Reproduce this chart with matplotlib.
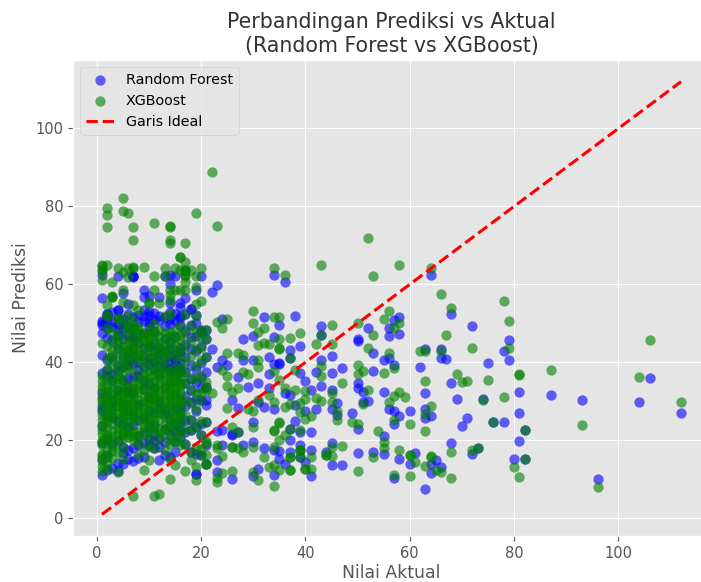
import matplotlib.pyplot as plt

# points that can be told apart, read one by one
rf_actual = [64, 68, 72, 79, 78, 79, 75, 63, 66, 66, 67, 62, 68, 63, 69, 74, 81, 87, 93, 104,
             106, 112, 81, 63, 63, 64, 71, 70, 78, 76, 82, 81, 68, 72, 73, 80, 82, 96, 63, 64,
             65, 66, 64, 34, 36, 32, 38, 35, 43, 43, 28, 30, 34, 39, 37, 33, 37, 43, 45, 47,
             45, 42, 39, 35, 35, 30, 28, 34, 33, 40, 31, 29, 33, 36, 37, 41, 43, 45, 50, 50,
             51, 52, 51, 46, 45, 46, 42, 38, 34, 32, 31, 40, 49, 55, 56, 57, 58, 60, 38, 30,
             37, 41, 39, 57, 50, 55, 37, 30, 28, 32, 34, 35, 37, 39, 41, 44, 45, 50, 53, 55,
             58, 60, 61, 45, 47, 35, 40, 31, 30, 34, 57, 36, 39, 41, 52, 50, 50, 53, 56, 56,
             58, 57, 58, 56, 55, 57, 53, 1, 1, 4, 7, 7, 7, 14, 15, 20, 13, 14, 23, 22, 19, 9,
             5, 9, 10, 12, 17, 14, 16, 16, 6, 9, 18, 18, 2, 2, 4, 4, 10, 16, 17, 19, 24, 1,
             11, 14, 22, 23, 24, 25, 27, 27, 26, 27, 26, 24, 23, 26, 19, 23, 23, 26, 24]
rf_pred = [62.3, 52.5, 49.3, 45.7, 42.8, 40.6, 39.9, 43.4, 43.4, 41.2, 40.9, 38.8, 34.8, 32.2, 30.6, 30.5, 32.4, 31.6, 30.4, 29.8,
           35.9, 27.1, 26.9, 27.9, 25.6, 26.3, 25.6, 23.7, 24.7, 24.7, 22.7, 19.8, 19.2, 16.6, 18.0, 15.3, 15.1, 10.1, 7.6, 14.0,
           14.9, 13.2, 11.7, 62.3, 60.5, 51.5, 51.8, 49.6, 49.4, 47.0, 46.0, 46.7, 46.4, 44.1, 43.1, 41.4, 41.0, 40.7, 41.7, 38.5,
           37.2, 37.5, 37.2, 39.9, 39.6, 40.5, 40.5, 39.5, 37.1, 35.2, 34.6, 33.7, 33.3, 32.2, 31.6, 32.8, 34.0, 32.8, 34.6, 33.5,
           32.3, 30.1, 29.9, 29.6, 28.1, 26.5, 28.1, 29.0, 27.9, 28.5, 29.9, 27.4, 27.1, 32.4, 28.1, 27.5, 26.3, 27.5, 25.0, 24.6,
           23.0, 22.2, 22.2, 24.1, 22.8, 21.0, 20.0, 19.6, 18.7, 18.1, 17.4, 17.3, 17.0, 18.7, 17.6, 17.0, 19.3, 16.8, 17.0, 16.6,
           15.2, 14.0, 16.8, 13.7, 13.7, 15.2, 14.5, 12.6, 10.8, 11.0, 10.4, 14.0, 15.6, 10.8, 48.9, 46.1, 45.4, 42.5, 48.7, 46.7,
           51.5, 50.8, 47.2, 41.2, 40.5, 39.3, 37.8, 56.5, 62.3, 62.1, 62.1, 62.0, 62.2, 62.3, 62.1, 62.1, 62.1, 60.0, 59.9, 58.0, 58.5, 58.5,
           57.8, 56.8, 57.0, 56.8, 56.5, 55.2, 55.1, 54.2, 55.0, 53.4, 53.8, 53.7, 52.5, 52.4, 53.4, 53.3, 51.9, 51.9, 52.5, 52.1, 51.0, 50.6,
           50.8, 51.2, 43.5, 38.7, 40.5, 39.2, 36.3, 28.4, 30.3, 22.2, 21.3, 22.6, 22.4, 10.0, 11.3, 11.9, 14.9, 21.5, 18.9]

rf_dense_actual = [1]*12 + [2]*12 + [3]*12 + [4]*12 + [5]*12 + [6]*12 + [7]*12 + [8]*12 + [9]*12 + [10]*12 \
    + [11]*12 + [12]*12 + [13]*12 + [14]*12 + [15]*12 + [16]*12 + [17]*10 + [18]*10 + [19]*10 + [20]*10 + [21]*10
rf_dense_pred = [
    11.0, 15.2, 19.4, 23.6, 27.5, 28.8, 32.2, 37.3, 42.0, 47.5, 49.6, 50.2,  # 1
    12.3, 16.1, 20.3, 26.2, 31.1, 36.4, 38.1, 40.7, 46.3, 48.9, 50.9, 52.0,
    13.0, 19.1, 25.6, 28.3, 30.0, 35.1, 37.0, 41.4, 45.8, 49.1, 50.4, 52.8,
    12.1, 14.3, 20.0, 24.9, 33.0, 37.7, 39.4, 43.6, 46.9, 48.2, 49.9, 51.4,
    14.0, 16.7, 18.2, 24.2, 29.2, 35.5, 38.9, 41.5, 46.1, 48.5, 50.0, 51.1,
    15.1, 17.4, 23.5, 32.5, 34.0, 35.9, 39.2, 40.6, 43.0, 47.0, 49.3, 52.5,
    14.6, 17.9, 24.0, 26.5, 32.1, 36.2, 39.9, 41.8, 45.4, 46.6, 48.7, 51.7,
    15.4, 18.7, 21.0, 25.1, 29.4, 36.6, 38.0, 40.0, 45.0, 47.3, 50.4, 52.2,
    15.8, 19.2, 22.0, 26.0, 33.2, 35.3, 38.8, 41.3, 43.7, 47.6, 50.7, 51.9,
    18.7, 20.4, 23.3, 27.5, 31.0, 34.4, 39.6, 41.1, 44.2, 49.4, 50.3, 52.9,
    17.9, 19.9, 21.6, 23.8, 27.3, 33.5, 38.4, 40.1, 42.9, 44.7, 48.1, 52.7,
    15.0, 18.4, 20.7, 27.9, 30.1, 37.1, 39.0, 40.9, 42.4, 44.0, 50.8, 52.0,
    16.3, 19.6, 23.0, 26.7, 28.1, 38.7, 39.1, 41.2, 43.1, 46.2, 49.2, 51.6,
    15.6, 21.4, 23.7, 26.1, 37.6, 38.2, 40.3, 41.7, 43.4, 45.1, 49.8, 53.0,
    16.9, 19.5, 22.3, 24.3, 28.4, 38.3, 39.7, 40.8, 42.1, 46.8, 50.6, 52.4,
    20.9, 22.6, 24.8, 26.9, 28.9, 37.5, 38.5, 39.8, 42.6, 43.8, 49.6, 51.3,
    19.0, 22.2, 25.2, 28.7, 31.4, 34.6, 37.6, 41.4, 44.8, 48.1,  # 17
    17.0, 22.6, 25.1, 29.8, 32.8, 35.8, 39.3, 43.5, 46.5, 49.5,
    11.3, 16.4, 23.4, 27.6, 30.6, 35.0, 38.0, 42.8, 46.8, 50.2,
    16.2, 21.3, 24.1, 30.3, 33.3, 36.0, 39.7, 44.2, 47.7, 48.4,
    13.8, 18.8, 24.7, 29.0, 30.3, 33.7, 37.5, 41.4, 46.1, 48.4]

xgb_actual = [64, 66, 68, 78, 79, 67, 72, 79, 66, 63, 62, 81, 81, 87, 104, 106, 69, 70, 71, 75,
              63, 78, 74, 64, 63, 63, 76, 93, 112, 82, 68, 72, 73, 64, 64, 80, 82, 81, 96, 63,
              65, 66, 68, 34, 36, 43, 52, 53, 58, 30, 30, 34, 35, 32, 31, 39, 45, 50, 55, 56,
              58, 57, 53, 43, 37, 35, 33, 31, 32, 35, 35, 42, 45, 52, 56, 37, 28, 31, 31, 43,
              38, 43, 50, 50, 51, 55, 57, 34, 29, 28, 35, 47, 36, 38, 40, 40, 45, 52, 58, 57,
              59, 56, 42, 43, 45, 33, 31, 34, 36, 37, 39, 39, 51, 29, 30, 41, 40, 46, 46, 49,
              50, 57, 60, 30, 35, 35, 34, 34, 36, 37, 35, 39, 54, 55, 55, 58, 60, 60, 61, 47,
              45, 30, 28, 34, 32, 33, 34, 35, 37, 37, 37, 37, 39, 39, 39, 39, 41, 40, 40, 41,
              44, 44, 45, 53, 50, 30, 31, 34, 57, 60]
xgb_pred = [64.2, 57.6, 54.0, 55.7, 50.6, 47.0, 43.8, 43.8, 42.8, 42.8, 42.8, 37.0, 36.8, 38.0, 36.3, 45.8, 36.9, 34.9, 35.1, 35.4,
            35.1, 31.0, 30.3, 28.9, 26.8, 22.4, 24.7, 24.0, 29.7, 22.6, 17.0, 17.4, 17.9, 16.0, 15.8, 13.2, 15.2, 10.5, 8.1, 13.3,
            12.5, 11.8, 10.4, 64.2, 62.5, 65.0, 71.9, 62.1, 65.0, 53.1, 50.2, 51.7, 51.7, 48.7, 47.8, 47.5, 49.6, 50.1, 51.2, 53.1,
            50.0, 48.7, 47.0, 47.0, 46.2, 46.1, 44.6, 44.4, 45.0, 43.6, 43.4, 44.7, 44.7, 43.8, 42.4, 41.0, 41.8, 40.5, 38.8, 39.0,
            38.0, 36.4, 39.4, 37.1, 37.8, 37.2, 38.6, 37.8, 37.1, 37.5, 35.4, 34.8, 33.3, 32.8, 32.7, 30.5, 32.2, 32.8, 32.4, 31.4,
            31.1, 29.9, 30.9, 30.1, 29.9, 31.6, 30.3, 29.9, 28.6, 29.3, 29.6, 27.3, 29.4, 27.9, 27.4, 26.2, 25.5, 25.1, 27.4, 24.6,
            24.1, 25.1, 24.1, 23.4, 24.6, 24.5, 22.6, 22.5, 21.3, 23.0, 20.0, 22.6, 22.4, 19.6, 17.9, 17.5, 16.2, 16.1, 14.5, 18.5,
            18.3, 18.3, 17.0, 18.3, 15.7, 13.2, 13.6, 12.3, 12.3, 12.4, 15.7, 15.6, 17.5, 17.4, 17.6, 15.7, 15.7, 12.7, 12.6, 12.7,
            16.2, 16.1, 15.9, 15.6, 12.1, 11.9, 9.7, 8.2, 11.0, 10.8]

xgb_high_actual = [22, 5, 2, 2, 5, 6, 19, 2, 7, 11, 14, 14, 23, 7, 14, 14, 17, 16, 16, 17,
                   1, 1, 2, 1, 1, 4, 6, 7, 7, 5, 9, 13, 15, 16, 17, 17, 17, 18, 20, 17,
                   17, 1, 3, 6, 11, 13, 19, 17, 17, 5, 11, 14, 14, 14, 15, 16, 19, 3, 3, 3,
                   2, 10, 10, 12, 20, 19, 5, 7, 25, 23, 14, 13, 2, 2, 4, 4, 6, 8, 17, 19]
xgb_high_pred = [88.7, 82.2, 79.7, 77.7, 78.8, 78.2, 78.2, 74.7, 74.7, 75.8, 74.9, 74.7, 75.0, 71.3, 71.3, 70.5, 70.7, 67.1, 66.9, 65.8,
                 64.9, 64.7, 64.9, 63.7, 63.5, 64.3, 64.3, 64.4, 64.2, 63.2, 64.5, 64.3, 64.2, 63.6, 63.7, 63.5, 63.6, 63.6, 64.3, 62.4,
                 62.2, 61.2, 60.6, 61.9, 62.1, 62.1, 62.1, 60.6, 58.5, 58.5, 58.5, 58.5, 57.2, 56.1, 58.5, 58.5, 59.4, 56.9, 56.8, 56.7,
                 54.7, 55.3, 55.1, 55.2, 55.7, 55.0, 55.5, 54.7, 51.2, 50.4, 52.5, 51.8, 52.2, 52.0, 51.3, 51.1, 51.9, 53.4, 52.5, 51.8]

# crowded block near the axis, columns of whole numbers
xgb_dense_actual = [1]*14 + [2]*14 + [3]*14 + [4]*14 + [5]*14 + [6]*14 + [7]*14 + [8]*14 + [9]*14 + [10]*14 \
    + [11]*14 + [12]*14 + [13]*14 + [14]*14 + [15]*14 + [16]*14 + [17]*10 + [18]*10 + [19]*10 + [20]*10 + [21]*10
xgb_dense_pred = [
    12.0, 13.4, 14.8, 16.5, 18.9, 20.1, 21.7, 23.9, 26.5, 29.8, 31.2, 33.9, 36.4, 45.0,  # 1
    12.6, 14.1, 17.2, 19.8, 21.0, 24.6, 25.8, 28.3, 30.0, 32.7, 34.2, 38.3, 44.2, 48.7,
    15.5, 18.4, 21.2, 22.4, 27.0, 27.8, 29.4, 33.0, 34.1, 38.8, 40.5, 42.0, 43.2, 47.9,
    11.9, 17.1, 22.8, 23.6, 28.9, 29.9, 31.5, 34.8, 35.6, 36.7, 41.2, 43.5, 44.7, 47.2,
    15.3, 20.5, 21.4, 22.0, 25.7, 26.4, 27.2, 30.1, 31.8, 32.7, 39.2, 40.9, 44.0, 49.6,
    20.8, 21.9, 26.2, 28.1, 29.0, 30.3, 31.1, 38.4, 41.3, 42.2, 44.6, 46.0, 49.0, 50.1,
    5.8, 20.1, 22.5, 27.3, 28.8, 29.6, 30.9, 33.3, 37.7, 42.8, 43.6, 45.1, 47.8, 50.6,
    16.3, 19.4, 22.2, 26.8, 27.6, 32.3, 33.4, 34.5, 41.8, 43.0, 44.9, 46.6, 48.2, 49.1,
    12.3, 17.6, 23.3, 24.3, 28.4, 29.2, 31.3, 32.9, 35.9, 37.0, 40.0, 44.3, 45.7, 47.0,
    14.9, 18.5, 22.7, 24.9, 26.0, 29.5, 30.7, 36.2, 37.9, 42.6, 43.9, 46.2, 47.4, 48.6,
    5.7, 17.9, 25.1, 26.6, 28.6, 30.5, 31.6, 35.3, 36.8, 38.1, 41.0, 45.4, 46.9, 49.8,
    6.3, 20.3, 23.0, 25.3, 29.3, 31.9, 33.1, 34.4, 35.7, 39.5, 42.9, 43.8, 46.4, 48.4,
    17.6, 21.6, 24.0, 27.5, 30.2, 32.5, 34.0, 35.1, 36.3, 37.4, 40.7, 41.9, 44.5, 47.5,
    10.0, 15.3, 19.0, 22.9, 25.5, 28.5, 30.6, 31.4, 32.8, 33.7, 34.6, 36.6, 44.8, 46.8,
    13.6, 19.7, 23.7, 26.1, 29.1, 30.8, 32.1, 33.2, 34.9, 35.4, 37.2, 41.4, 43.4, 48.0,
    18.7, 20.9, 24.4, 27.1, 29.7, 31.0, 33.6, 35.0, 36.0, 38.6, 41.6, 45.8, 47.1, 49.3,
    12.1, 19.0, 22.8, 26.4, 30.2, 34.6, 37.5, 40.2, 44.0, 47.6,  # 17
    14.9, 17.0, 22.6, 25.1, 29.6, 33.0, 36.1, 41.6, 45.4, 49.3,
    9.9, 13.1, 18.2, 23.4, 28.0, 31.9, 35.6, 39.0, 43.4, 47.9,
    16.2, 21.3, 24.9, 30.3, 32.5, 36.6, 40.7, 43.7, 46.2, 48.4,
    13.8, 16.2, 19.9, 24.7, 32.8, 33.7, 35.0, 41.4, 46.1, 48.4]

# second pass over the darkest green patches of the block
xgb_dark_actual = [1]*8 + [2]*8 + [3]*8 + [4]*8 + [5]*8 + [6]*8 + [7]*8 + [8]*8 + [9]*8 + [10]*8 \
    + [11]*8 + [12]*8 + [13]*8 + [14]*8 + [15]*8 + [16]*8
xgb_dark_pred = [
    16.0, 19.5, 22.6, 25.1, 27.9, 30.6, 32.9, 35.2,
    15.7, 20.4, 23.1, 26.7, 29.2, 31.5, 35.7, 41.2,
    17.3, 19.8, 24.4, 26.0, 30.7, 31.9, 36.2, 45.1,
    19.6, 21.4, 25.7, 27.3, 30.5, 32.7, 38.8, 46.0,
    18.1, 23.6, 28.4, 29.1, 33.9, 35.4, 37.2, 42.6,
    23.0, 24.7, 27.4, 32.5, 33.6, 39.9, 43.4, 47.7,
    21.2, 24.9, 26.1, 31.8, 34.8, 41.0, 44.2, 48.8,
    20.8, 25.3, 28.9, 30.4, 35.9, 40.3, 42.1, 47.4,
    21.7, 25.6, 27.0, 30.1, 34.2, 38.5, 41.9, 46.4,
    20.6, 23.8, 27.7, 31.4, 33.1, 35.0, 41.2, 44.9,
    22.4, 24.0, 29.3, 32.6, 33.7, 39.6, 42.8, 47.8,
    21.8, 26.9, 27.6, 30.6, 36.8, 38.0, 41.4, 45.0,
    22.9, 25.9, 28.7, 31.3, 33.4, 38.9, 42.8, 46.0,
    20.3, 23.9, 26.8, 29.6, 35.3, 37.9, 42.4, 47.9,
    21.6, 25.0, 27.8, 31.7, 36.0, 38.7, 44.6, 46.6,
    22.2, 25.6, 28.2, 30.2, 32.4, 34.4, 37.3, 43.5]

xgb_edge_actual = [23, 23, 24, 25, 27, 24, 25, 25, 26, 27, 25, 26, 27, 22, 26, 26, 23, 23, 24, 26, 27, 24, 21, 21, 20]
xgb_edge_pred = [10.2, 9.2, 15.9, 42.3, 42.3, 38.0, 36.4, 33.9, 32.4, 33.3, 28.4, 23.4, 22.2, 32.2, 18.3, 12.0, 18.7, 17.9, 48.7, 18.4, 17.9, 11.5, 13.8, 19.4, 17.8]

# y = x reference line ends
ideal_line = [1, 112]

x_ticks = [0, 20, 40, 60, 80, 100]
y_ticks = [0, 20, 40, 60, 80, 100]

plt.style.use('ggplot')
fig = plt.figure(figsize=(7.01, 5.82), dpi=100)
ax = fig.add_axes([73 / 701, 46 / 582, 637 / 701, 476 / 582])

ax.scatter(rf_actual + rf_dense_actual, rf_pred + rf_dense_pred, color='blue', alpha=0.6, s=55,
           linewidths=0, label='Random Forest')
ax.scatter(xgb_actual + xgb_high_actual + xgb_dense_actual + xgb_dark_actual + xgb_edge_actual,
           xgb_pred + xgb_high_pred + xgb_dense_pred + xgb_dark_pred + xgb_edge_pred,
           color='green', alpha=0.6, s=55, linewidths=0, label='XGBoost')
ax.plot(ideal_line, ideal_line, 'r--', lw=2.2, label='Garis Ideal')

ax.set_xlim(-4.55, 117.55)
ax.set_ylim(-4.55, 117.55)
ax.set_xticks(x_ticks)
ax.set_yticks(y_ticks)
ax.tick_params(labelsize=10.5)
ax.set_xlabel('Nilai Aktual', fontsize=12.4, labelpad=2.5)
ax.set_ylabel('Nilai Prediksi', fontsize=12.4)
ax.set_title('Perbandingan Prediksi vs Aktual\n(Random Forest vs XGBoost)', fontsize=14.8, color='#333333')
ax.legend(loc='upper left', fontsize=10.3)

fig.savefig('out.png', dpi=100)
